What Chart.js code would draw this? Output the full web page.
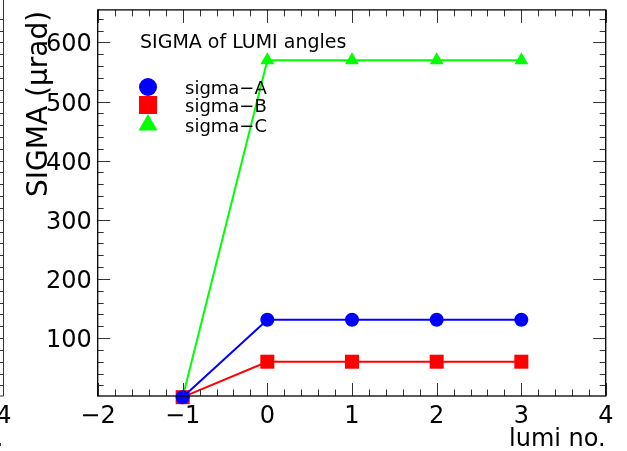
<!DOCTYPE html>
<html>
<head>
<meta charset="utf-8">
<script src="https://cdn.jsdelivr.net/npm/chart.js@4/dist/chart.umd.min.js"></script>
<style>
  html, body { margin: 0; padding: 0; background: #fff; }
  #c { display: block; }
</style>
</head>
<body>
<canvas id="c" width="627" height="451"></canvas>
<script>
// Luminosity block numbers and the measured angular spread per monitor
const lumiNo = [-1, 0, 1, 2, 3];
const sigmaA = [0, 131, 131, 131, 131];
const sigmaB = [0, 60, 60, 60, 60];
const sigmaC = [0, 570, 570, 570, 570];

const seriesNames = ['sigma\u2212A', 'sigma\u2212B', 'sigma\u2212C'];
const xTickValues = [-2, -1, 0, 1, 2, 3, 4];
const yTickValues = [100, 200, 300, 400, 500, 600];
const xTitle = 'lumi no.';
const yTitle = 'SIGMA (\u03bcrad)';
const legendHeader = 'SIGMA of LUMI angles';

const FONT = '"DejaVu Sans", "Liberation Sans", sans-serif';

function pts(ys) { return lumiNo.map((x, i) => ({ x: x, y: ys[i] })); }
function fmt(v) { return v < 0 ? '\u2212' + Math.abs(v) : String(v); }

const styles = [
  { color: '#0000ff', pointStyle: 'circle',   radius: 7 },
  { color: '#ff0000', pointStyle: 'rect',     radius: 9.9 },
  { color: '#00ff00', pointStyle: 'triangle', radius: 8 }
];
const values = [sigmaA, sigmaB, sigmaC];

const datasets = values.map((ys, i) => ({
  label: seriesNames[i],
  data: pts(ys),
  borderColor: styles[i].color,
  backgroundColor: styles[i].color,
  pointBackgroundColor: styles[i].color,
  pointBorderColor: styles[i].color,
  pointBorderWidth: 0,
  pointStyle: styles[i].pointStyle,
  pointRadius: styles[i].radius,
  borderWidth: 2,
  tension: 0,
  clip: false
}));

function marker(ctx, style, x, y, r) {
  ctx.save();
  ctx.fillStyle = style.color;
  ctx.beginPath();
  if (style.pointStyle === 'circle') {
    ctx.arc(x, y, r, 0, Math.PI * 2);
  } else if (style.pointStyle === 'rect') {
    ctx.rect(x - r, y - r, 2 * r, 2 * r);
  } else {
    ctx.moveTo(x, y - r);
    ctx.lineTo(x + r * 0.866, y + r * 0.5);
    ctx.lineTo(x - r * 0.866, y + r * 0.5);
    ctx.closePath();
  }
  ctx.fill();
  ctx.restore();
}

// Frame, inward ticks on all four sides, labels, titles and the legend box
const framePlugin = {
  id: 'frame',
  afterDraw(chart) {
    const ctx = chart.ctx;
    const xs = chart.scales.x, ys = chart.scales.y;
    const L = chart.chartArea.left - 0.3, R = chart.chartArea.right - 0.3;
    const T = chart.chartArea.top, B = chart.chartArea.bottom;

    ctx.save();
    // ticks
    ctx.strokeStyle = '#333';
    ctx.lineWidth = 1;
    ctx.beginPath();
    for (let k = 0; k <= 30; k++) {
      const v = xs.min + k * 0.2;
      const px = Math.round(xs.getPixelForValue(v)) + 0.5;
      const len = (k % 5 === 0) ? 13 : 6.5;
      ctx.moveTo(px, B); ctx.lineTo(px, B - len);
      ctx.moveTo(px, T); ctx.lineTo(px, T + len);
    }
    for (let v = 20; v <= 640; v += 20) {
      const py = Math.round(ys.getPixelForValue(v)) + 0.5;
      const len = (v % 100 === 0) ? 12.5 : 6;
      ctx.moveTo(L, py); ctx.lineTo(L + len, py);
      ctx.moveTo(R, py); ctx.lineTo(R - len, py);
    }
    ctx.stroke();

    // neighbouring pad edge on the far left
    ctx.beginPath();
    ctx.moveTo(3.5, 0); ctx.lineTo(3.5, B);
    ctx.lineTo(0, B);
    for (let v = 20; v <= 640; v += 20) {
      const py = Math.round(ys.getPixelForValue(v)) + 0.5;
      ctx.moveTo(3.5, py); ctx.lineTo(0, py);
    }
    ctx.stroke();

    // frame
    ctx.strokeStyle = '#000';
    ctx.lineWidth = 1.3;
    ctx.strokeRect(L, T, R - L, B - T);

    // tick labels
    ctx.fillStyle = '#000';
    ctx.font = '24px ' + FONT;
    ctx.textAlign = 'center';
    ctx.textBaseline = 'alphabetic';
    xTickValues.forEach(v => {
      ctx.fillText(fmt(v), xs.getPixelForValue(v), B + 27);
    });
    ctx.fillText('4', xs.getPixelForValue(4) - (R - 3.5), B + 27);
    ctx.textAlign = 'right';
    yTickValues.forEach(v => {
      ctx.fillText(String(v), L - 6, ys.getPixelForValue(v) + 9);
    });

    // axis titles
    ctx.font = '24px ' + FONT;
    ctx.textAlign = 'right';
    ctx.fillText(xTitle, R, B + 50);
    ctx.fillText('.', 3.5, B + 50);

    ctx.save();
    ctx.font = '28px ' + FONT;
    ctx.translate(47, T + 1);
    ctx.rotate(-Math.PI / 2);
    ctx.textAlign = 'right';
    ctx.fillText(yTitle, 0, 0);
    ctx.restore();

    // legend
    ctx.font = '19px ' + FONT;
    ctx.textAlign = 'left';
    ctx.fillText(legendHeader, 140, 48);
    ctx.font = '18px ' + FONT;
    const rows = [87, 105, 125];
    const lr = [9, 9, 11];
    seriesNames.forEach((name, i) => {
      marker(ctx, styles[i], 148, rows[i], lr[i]);
      ctx.fillStyle = '#000';
      ctx.fillText(name, 185, rows[i] + 7);
    });
    ctx.restore();
  }
};

new Chart(document.getElementById('c'), {
  type: 'line',
  data: { datasets: datasets },
  options: {
    responsive: false,
    animation: false,
    devicePixelRatio: 1,
    layout: { padding: { left: 98, right: 21, top: 7, bottom: 55 } },
    plugins: { legend: { display: false }, tooltip: { enabled: false } },
    scales: {
      x: { type: 'linear', min: -2, max: 4, display: false },
      y: { type: 'linear', min: 2, max: 655, display: false }
    }
  },
  plugins: [framePlugin]
});
</script>
</body>
</html>
